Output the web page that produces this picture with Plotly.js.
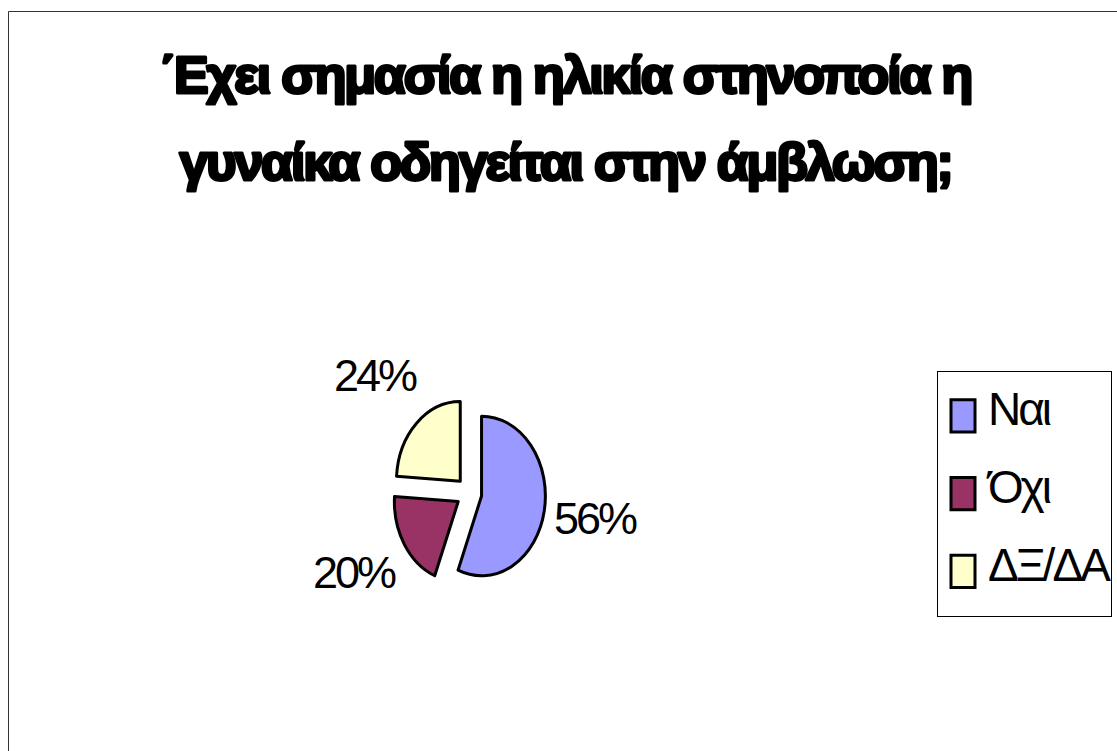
<!DOCTYPE html>
<html><head><meta charset="utf-8">
<script src="https://cdn.plot.ly/plotly-3.0.1.min.js"></script>
<style>
html,body{margin:0;padding:0;background:#fff;overflow:hidden}
#chart{width:1117px;height:751px}
svg text{letter-spacing:-3px}
.gtitle{letter-spacing:-2.2px}
#chart .gtitle,#chart .annotation[data-index="0"] text{letter-spacing:-2.2px !important;stroke:#000 !important;stroke-width:3px !important;paint-order:stroke fill;stroke-linejoin:round}
.legendtext{font-size:46px !important;letter-spacing:-2px}
#chart .legendtext{letter-spacing:-3px;transform:translate(10px,-13px)}
#chart .legendpie{transform:translate(25px,0px) scale(2,2.67);vector-effect:non-scaling-stroke}
#chart .pielayer path.surface{transform-box:view-box;transform-origin:469px 493px;transform:scale(0.84,1.05);vector-effect:non-scaling-stroke}
</style></head><body><div id="chart"></div>
<script>
const labels = ['Ναι', 'Όχι', 'ΔΞ/ΔΑ'];
const values = [56, 20, 24];
const colors = ['#9999FF', '#993366', '#FFFFCC'];
const titleLines = ['΄Εχει σημασία η ηλικία στηνοποία η', 'γυναίκα οδηγείται στην άμβλωση;'];

const W = 1117, H = 751;
const cx = 469, cy = 493, half = 91.2;
const FONT = 'Liberation Sans, Arial, sans-serif';

const trace = {
  type: 'pie',
  labels: labels,
  values: values,
  sort: false,
  direction: 'clockwise',
  rotation: 0,
  pull: [0.2, 0.2, 0.2],
  marker: {colors: colors, line: {color: '#000', width: 3}},
  textinfo: 'none',
  hoverinfo: 'label+percent',
  domain: {x: [(cx - half) / W, (cx + half) / W], y: [1 - (cy + half) / H, 1 - (cy - half) / H]}
};

// percent labels placed around the pie at each slice's mid-angle (computed from the values)
const total = values.reduce((a, b) => a + b, 0);
const labelCx = 466, labelCy = 489, labelRx = 132, labelRy = 156;
let cum = 0;
const pctAnnotations = values.map(v => {
  const mid = (cum + v / 2) / total * 2 * Math.PI;
  cum += v;
  const px = labelCx + labelRx * Math.sin(mid);
  const py = labelCy - labelRy * Math.cos(mid);
  return {
    text: Math.round(v / total * 100) + '%',
    font: {family: FONT, size: 45, color: '#000'},
    xref: 'paper', yref: 'paper', x: px / W, y: 1 - py / H,
    xanchor: 'center', yanchor: 'middle', showarrow: false
  };
});

const layout = {
  width: W, height: H,
  margin: {l: 0, r: 0, t: 0, b: 0},
  paper_bgcolor: '#fff',
  plot_bgcolor: '#fff',
  font: {family: FONT, color: '#000'},
  title: {
    text: titleLines[0],
    font: {family: FONT, size: 52, weight: 'bold', color: '#000'},
    xref: 'paper', x: 565 / W, xanchor: 'center',
    yref: 'container', y: 1 - 74.6 / H, yanchor: 'middle'
  },
  annotations: [{
    text: titleLines[1],
    font: {family: FONT, size: 52, weight: 'bold', color: '#000'},
    xref: 'paper', yref: 'paper', x: 565 / W, y: 1 - 162 / H,
    xanchor: 'center', yanchor: 'middle', showarrow: false
  }].concat(pctAnnotations),
  showlegend: true,
  legend: {
    x: 937 / W, xanchor: 'left', y: 1 - 371 / H, yanchor: 'top',
    bordercolor: '#000', borderwidth: 1, bgcolor: '#fff',
    font: {family: FONT, size: 57.5, color: '#000'}
  },
  shapes: [{
    type: 'rect', xref: 'paper', yref: 'paper',
    x0: 8.5 / W, x1: 1.1, y0: -0.1, y1: 1 - 11.5 / H,
    line: {color: '#333', width: 1}, fillcolor: 'rgba(0,0,0,0)', layer: 'below'
  }]
};

Plotly.newPlot('chart', [trace], layout, {displayModeBar: false, staticPlot: true});
</script></body></html>
